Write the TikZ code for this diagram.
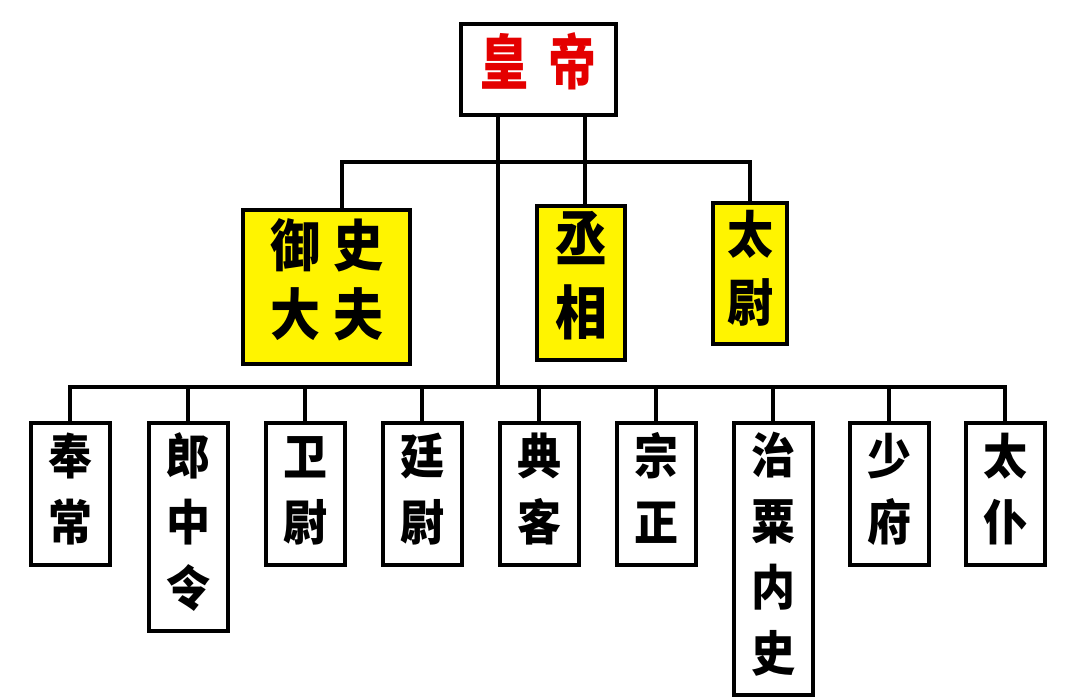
\documentclass[tikz,border=0pt]{standalone}
\usepackage{graphicx}
\usepackage{fontspec}
\newfontfamily\cjk{Noto Sans CJK SC}
\usetikzlibrary{calc}
\definecolor{boxyellow}{RGB}{255,244,0}
\definecolor{empred}{RGB}{228,0,0}
\newcommand\vtext[2]{\scalebox{1}[#1]{\begin{tabular}{@{}c@{}}#2\end{tabular}}}
\tikzset{
  officebox/.style={draw=black, line width=4pt, fill=white, inner sep=0pt,
    minimum width=79pt, font=\cjk\bfseries\fontsize{44}{60}\selectfont},
  ministerbox/.style={draw=black, line width=4pt, fill=boxyellow, inner sep=0pt},
  empbox/.style={draw=black, line width=4pt, fill=white, inner sep=0pt,
    font=\cjk\bfseries\fontsize{48}{60}\selectfont},
  conn/.style={draw=black, line width=3.5pt}
}
\begin{document}
\begin{tikzpicture}[x=1pt,y=-1pt]
\useasboundingbox (0,0) rectangle (1080,699);
\fill[white] (0,0) rectangle (1080,699);

% the two bus points
\coordinate (bus) at (498,387);
\coordinate (ubus) at (585,162);

% emperor
\node[empbox, minimum width=155pt, minimum height=91pt] (emp) at (538.5,69.5)
  {\vtext{1.25}{\textcolor{empred}{皇\hspace{20pt}帝}}};

% ministers
\node[ministerbox, minimum width=167pt, minimum height=154pt,
  font=\cjk\bfseries\fontsize{50}{62}\selectfont] (yushi) at (326.5,287)
  {\raisebox{-6pt}{\vtext{1.12}{御\hspace{13pt}史\\大\hspace{13pt}夫}}};
\node[ministerbox, minimum width=88pt, minimum height=154pt,
  font=\cjk\bfseries\fontsize{52}{66}\selectfont] (cheng) at (581,283)
  {\raisebox{-3pt}{\vtext{1.12}{丞\\相}}};
\node[ministerbox, minimum width=74pt, minimum height=141pt,
  font=\cjk\bfseries\fontsize{46}{62}\selectfont] (taiwei) at (750,273.5)
  {\raisebox{-3pt}{\vtext{1.1}{太\\尉}}};

% nine ministers
\node[officebox, minimum height=142pt] (b1) at (70,494)   {\vtext{1.1}{奉\\常}};
\node[officebox, minimum height=208pt] (b2) at (188,527)  {\vtext{1.1}{郎\\中\\令}};
\node[officebox, minimum height=142pt] (b3) at (305,494)  {\vtext{1.1}{卫\\尉}};
\node[officebox, minimum height=142pt] (b4) at (422,494)  {\vtext{1.1}{廷\\尉}};
\node[officebox, minimum height=142pt] (b5) at (539,494)  {\vtext{1.1}{典\\客}};
\node[officebox, minimum height=142pt] (b6) at (656,494)  {\vtext{1.1}{宗\\正}};
\node[officebox, minimum height=272pt] (b7) at (773,559)  {\vtext{1.1}{治\\粟\\内\\史}};
\node[officebox, minimum height=142pt] (b8) at (889,494)  {\vtext{1.1}{少\\府}};
\node[officebox, minimum height=142pt] (b9) at (1005,494) {\vtext{1.1}{太\\仆}};

% connectors
\draw[conn] (emp.south -| bus) -- (bus);
\draw[conn] (emp.south -| ubus) -- (cheng.north -| ubus);
\draw[conn] ([xshift=15.5pt]yushi.north) |- (ubus) -| (taiwei.north);
\foreach \n in {b1,b2,b3,b4,b5,b6,b7,b8,b9}
  \draw[conn] (\n.north) |- (bus);
\end{tikzpicture}
\end{document}
